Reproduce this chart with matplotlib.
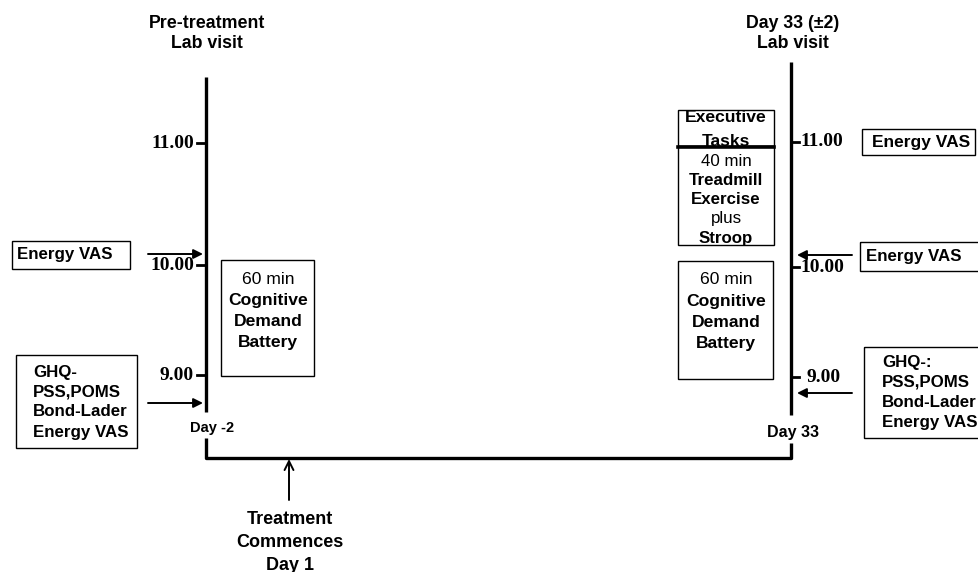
import matplotlib.pyplot as plt
from matplotlib.patches import Rectangle

# time ticks on each visit line
tick_labels = ["11.00", "10.00", "9.00"]
left_tick_y = [143, 265, 375]
right_tick_y = [142, 267, 377]

visit_titles = [["Pre-treatment", "Lab visit"], ["Day 33 (±2)", "Lab visit"]]
day_labels = ["Day -2", "Day 33"]
battery_lines = [("60 min", "normal"), ("Cognitive", "bold"), ("Demand", "bold"), ("Battery", "bold")]
exercise_lines = [("40 min", "normal"), ("Treadmill", "bold"), ("Exercise", "bold"),
                  ("plus", "normal"), ("Stroop", "bold")]
pre_measures = ["GHQ-", "PSS,POMS", "Bond-Lader", "Energy VAS"]
post_measures = ["GHQ-:", "PSS,POMS", "Bond-Lader", "Energy VAS"]
treatment_text = ["Treatment", "Commences", "Day 1"]

SANS = "Liberation Sans"
SERIF = "Liberation Serif"
FS = 12.2

fig = plt.figure(figsize=(9.79, 5.72), dpi=100)
ax = fig.add_axes([0, 0, 1, 1])
ax.set_xlim(0, 979)
ax.set_ylim(572, 0)
ax.axis("off")

LW = 2.4
xl, xr = 206, 791


def box(x0, y0, x1, y1, lw=1.0):
    ax.add_patch(Rectangle((x0, y0), x1 - x0, y1 - y0, fill=False, ec="black", lw=lw))


def arrow(x0, x1, y):
    ax.annotate("", xy=(x1, y), xytext=(x0, y),
                arrowprops=dict(arrowstyle="-|>", color="black", lw=1.4,
                                mutation_scale=14, shrinkA=0, shrinkB=0))


# visit lines
ax.plot([xl, xl], [77, 412], color="black", lw=LW, solid_capstyle="butt")
ax.plot([xr, xr], [62, 415], color="black", lw=LW, solid_capstyle="butt")
ax.plot([xl, xl, xr, xr], [438, 458, 458, 443], color="black", lw=LW, solid_capstyle="butt")

# titles
for (t1, t2), x in zip(visit_titles, [xl + 1, xr + 2]):
    ax.text(x, 23, t1, ha="center", va="center", family=SANS, weight="bold", fontsize=12.8)
    ax.text(x, 43, t2, ha="center", va="center", family=SANS, weight="bold", fontsize=12.8)

# ticks
for lab, y in zip(tick_labels, left_tick_y):
    ax.plot([xl - 9, xl], [y, y], color="black", lw=2)
    ax.text(xl - 12, y, lab, ha="right", va="center", family=SERIF, weight="bold", fontsize=14)
for lab, y in zip(tick_labels, right_tick_y):
    ax.plot([xr, xr + 8], [y, y], color="black", lw=2)
    ax.text(xr + 9 + (7 if lab == "9.00" else 0), y, lab, ha="left", va="center",
            family=SERIF, weight="bold", fontsize=14)

# day labels
ax.text(xl + 6, 428, day_labels[0], ha="center", va="center", family=SANS, weight="bold", fontsize=10.5)
ax.text(xr + 2, 432, day_labels[1], ha="center", va="center", family=SANS, weight="bold", fontsize=11.5)

# left side: Energy VAS box and arrow
box(12, 241, 130, 269)
ax.text(17, 255, "Energy VAS", ha="left", va="center", family=SANS, weight="bold", fontsize=FS)
arrow(148, 203, 254)

# left side: questionnaires
box(16, 355, 137, 448)
for i, t in enumerate(pre_measures):
    ax.text(33, 372 + 20 * i, t, ha="left", va="center", family=SANS, weight="bold", fontsize=FS)
arrow(148, 203, 403)

# left cognitive battery
box(221, 260, 314, 376)
for i, (t, w) in enumerate(battery_lines):
    ax.text(268, 280 + 21 * i, t, ha="center", va="center", family=SANS, weight=w, fontsize=FS + 0.4)

# right: executive tasks and exercise
box(678, 110, 774, 146)
ax.text(726, 118, "Executive", ha="center", va="center", family=SANS, weight="bold", fontsize=FS + 0.4)
ax.text(726, 142, "Tasks", ha="center", va="center", family=SANS, weight="bold", fontsize=FS + 0.4)
box(678, 146, 774, 245)
ax.plot([678, 774], [147, 147], color="black", lw=2.6)
for i, (t, w) in enumerate(exercise_lines):
    ax.text(726, 161 + 19.3 * i, t, ha="center", va="center", family=SANS, weight=w, fontsize=FS)

# right cognitive battery
box(678, 261, 773, 379)
for i, (t, w) in enumerate(battery_lines):
    ax.text(726, 280 + 21.3 * i, t, ha="center", va="center", family=SANS, weight=w, fontsize=FS + 0.4)

# right Energy VAS boxes
box(862, 129, 975, 155)
ax.text(872, 142, "Energy VAS", ha="left", va="center", family=SANS, weight="bold", fontsize=FS + 0.3)
box(860, 242, 995, 271)
ax.text(866, 256, "Energy VAS", ha="left", va="center", family=SANS, weight="bold", fontsize=FS)
arrow(852, 797, 255)

# right questionnaires
box(864, 347, 995, 438)
for i, t in enumerate(post_measures):
    ax.text(882, 362 + 20.3 * i, t, ha="left", va="center", family=SANS, weight="bold", fontsize=FS)
arrow(852, 797, 393)

# treatment commences
ax.annotate("", xy=(289, 459), xytext=(289, 500),
            arrowprops=dict(arrowstyle="->", color="black", lw=1.4,
                            mutation_scale=16, shrinkA=0, shrinkB=0))
for i, t in enumerate(treatment_text):
    ax.text(290, 520 + 22.5 * i, t, ha="center", va="center", family=SANS, weight="bold", fontsize=13)

fig.savefig("out.png", dpi=100)
